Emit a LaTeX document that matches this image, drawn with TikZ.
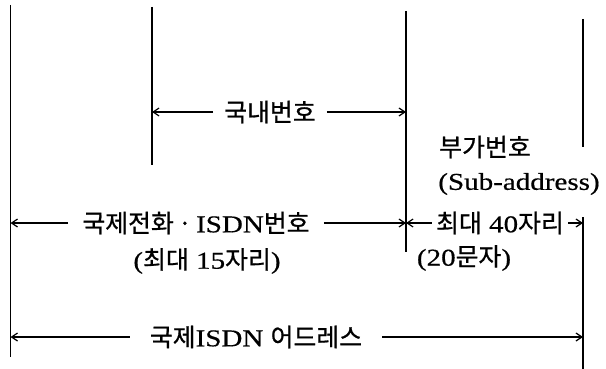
\documentclass[tikz,border=0pt]{standalone}
\usepackage{fontspec}
\setmainfont[Scale=1.1,FakeStretch=1.2,FakeBold=0.5]{Liberation Serif}
\newfontfamily\kr[Scale=1.13,FakeBold=0.8]{Noto Sans CJK KR}
\usetikzlibrary{arrows.meta}
\begin{document}
\begin{tikzpicture}[x=1pt,y=-1pt,
  vline/.style={line width=1.3pt},
  arr/.style={line width=1.1pt,-{Straight Barb[length=6pt,width=8pt,line width=1.2pt]}},
  lab/.style={inner ysep=0pt,inner xsep=11pt,font=\fontsize{22}{26}\selectfont}]
\useasboundingbox (0,0) rectangle (606,369);
% vertical boundary lines
\coordinate (L1t) at (10.5,5);   \coordinate (L1b) at (10.5,357);
\coordinate (L2t) at (152,7);    \coordinate (L2b) at (152,165);
\coordinate (L3t) at (406,11);   \coordinate (L3b) at (406,252);
\coordinate (L4t) at (583,19);   \coordinate (L4m) at (583,147);
\coordinate (L4b) at (583,217);  \coordinate (L4e) at (583,369);
\draw[vline] (L1t) -- (L1b);
\draw[vline] (L2t) -- (L2b);
\draw[vline] (L3t) -- (L3b);
\draw[vline] (L4t) -- (L4m);
\draw[vline] (L4b) -- (L4e);
% labels
\node[lab] (kn) at (270,112) {\kr 국내번호};
\node[lab,inner xsep=14pt] (ki) at (196,223) {{\kr 국제전화\,·\,}ISDN{\kr 번호}};
\node[lab] (c15) at (207,261) {({\kr 최대} 15{\kr 자리})};
\node[lab] (bu) at (485,147) {\kr 부가번호};
\node[lab] (sub) at (519,184) {(Sub-address)};
\node[lab,inner xsep=4pt] (c40) at (500,223) {{\kr 최대} 40{\kr 자리}};
\node[lab] (c20) at (464,258) {(20{\kr 문자})};
\node[lab,inner xsep=20pt] (ia) at (256,337) {{\kr 국제}ISDN {\kr 어드레스}};
% dimension arrows
\draw[arr] (kn.west) -- (kn.west -| L2t);
\draw[arr] (kn.east) -- (kn.east -| L3t);
\draw[arr] (ki.west) -- (ki.west -| L1t);
\draw[arr] (ki.east) -- (ki.east -| L3t);
\draw[arr] (c40.west) -- (c40.west -| L3t);
\draw[arr] (c40.east) -- (c40.east -| L4b);
\draw[arr] (ia.west) -- (ia.west -| L1t);
\draw[arr] (ia.east) -- (ia.east -| L4b);
\end{tikzpicture}
\end{document}
